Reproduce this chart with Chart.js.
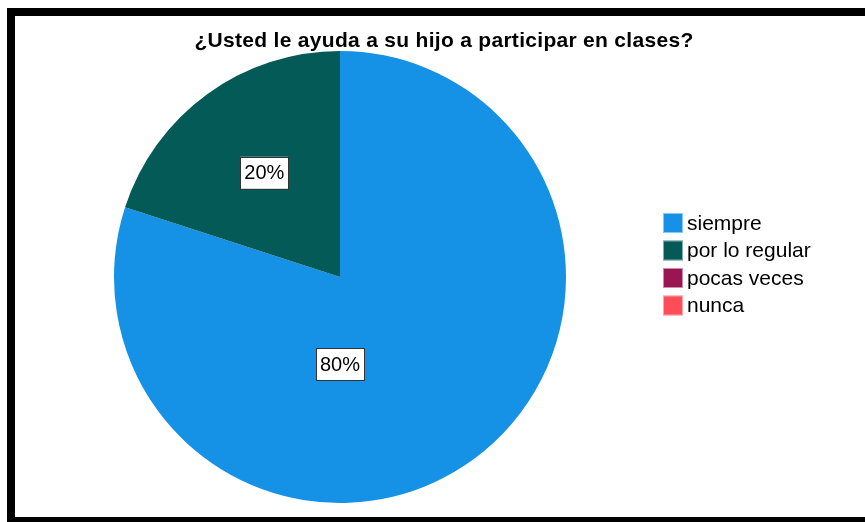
<!DOCTYPE html>
<html>
<head>
<meta charset="utf-8">
<script src="https://cdn.jsdelivr.net/npm/chart.js@4/dist/chart.umd.min.js"></script>
<style>
  html, body { margin: 0; padding: 0; background: #ffffff; overflow: hidden; }
  #wrap { position: absolute; left: 0; top: 0; width: 865px; height: 522px; }
</style>
</head>
<body>
<div id="wrap"><canvas id="c" width="865" height="522"></canvas></div>
<script>
const chartTitle = "¿Usted le ayuda a su hijo a participar en clases?";
const categories = ["siempre", "por lo regular", "pocas veces", "nunca"];
const percentValues = [80, 20, 0, 0];
const sliceColors = ["#1591E6", "#035A57", "#9A1653", "#FF4C59"];

const framePlugin = {
  id: 'frame',
  beforeDraw(chart) {
    const ctx = chart.ctx;
    ctx.save();
    ctx.fillStyle = '#ffffff';
    ctx.fillRect(0, 0, chart.width, chart.height);
    ctx.fillStyle = '#000000';
    ctx.fillRect(7, 8, chart.width - 7, 8);     // top
    ctx.fillRect(7, 8, 8, chart.height - 8);    // left
    ctx.fillRect(7, 517, chart.width - 7, 5);   // bottom
    ctx.restore();
  },
  afterDraw(chart) {
    const ctx = chart.ctx;
    const o = chart.options.plugins.frame;
    ctx.save();
    // title
    ctx.fillStyle = '#000';
    ctx.font = 'bold 21px "Liberation Sans", Arial, sans-serif';
    ctx.letterSpacing = '0.3px';
    ctx.textAlign = 'center';
    ctx.textBaseline = 'alphabetic';
    ctx.fillText(chartTitle, o.titleX, o.titleY);
    ctx.letterSpacing = '0px';

    // legend
    ctx.font = '21px "Liberation Sans", Arial, sans-serif';
    ctx.textAlign = 'left';
    ctx.textBaseline = 'middle';
    const ds = chart.data.datasets[0];
    chart.data.labels.forEach((lab, i) => {
      const cy = o.legendY + i * o.legendStep;
      ctx.fillStyle = ds.backgroundColor[i];
      ctx.fillRect(o.legendX, cy - 10, 20, 20);
      ctx.strokeStyle = 'rgba(255,255,255,0.5)';
      ctx.lineWidth = 1;
      ctx.strokeRect(o.legendX + 0.5, cy - 9.5, 19, 19);
      ctx.fillStyle = '#000';
      ctx.fillText(lab, o.legendX + 24, cy + 1);
    });

    // value labels
    const meta = chart.getDatasetMeta(0);
    ctx.font = '20px "Liberation Sans", Arial, sans-serif';
    ctx.textAlign = 'center';
    meta.data.forEach((arc, i) => {
      const v = ds.data[i];
      if (!v) return;
      const p = arc.getProps(['x', 'y', 'startAngle', 'endAngle', 'outerRadius'], true);
      const place = o.labelPlace[i];
      const mid = (p.startAngle + p.endAngle) / 2 + place.shift;
      const rr = p.outerRadius * place.r;
      const lx = p.x + Math.cos(mid) * rr;
      const ly = p.y + Math.sin(mid) * rr;
      const txt = v + '%';
      const w = ctx.measureText(txt).width + 8;
      const h = 32;
      ctx.fillStyle = '#ffffff';
      ctx.fillRect(lx - w / 2, ly - h / 2, w, h);
      ctx.strokeStyle = '#333333';
      ctx.lineWidth = 1;
      ctx.strokeRect(Math.round(lx - w / 2) + 0.5, Math.round(ly - h / 2) + 0.5, Math.round(w), h);
      ctx.fillStyle = '#000';
      ctx.fillText(txt, lx, ly + 1);
    });
    ctx.restore();
  }
};

new Chart(document.getElementById('c'), {
  type: 'pie',
  data: {
    labels: categories,
    datasets: [{
      data: percentValues,
      backgroundColor: sliceColors,
      borderWidth: 0
    }]
  },
  options: {
    responsive: false,
    animation: false,
    events: [],
    layout: { padding: { left: 114, right: 299, top: 51, bottom: 19 } },
    plugins: {
      legend: { display: false },
      title: { display: false },
      tooltip: { enabled: false },
      frame: {
        titleX: 444, titleY: 47,
        legendX: 663, legendY: 223, legendStep: 27.5,
        labelPlace: [ { r: 0.385, shift: Math.PI * 0.2 }, { r: 0.57, shift: 0 } ]
      }
    }
  },
  plugins: [framePlugin]
});
</script>
</body>
</html>
